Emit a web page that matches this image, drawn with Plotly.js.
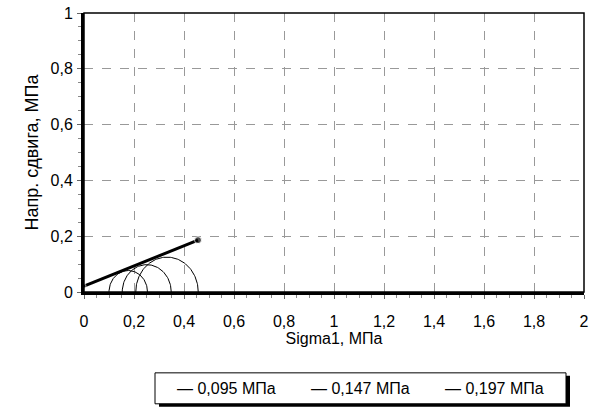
<!DOCTYPE html>
<html>
<head>
<meta charset="utf-8">
<script src="https://cdn.plot.ly/plotly-3.0.1.min.js"></script>
<style>html,body{margin:0;padding:0;background:#fff;}#chart{width:602px;height:411px;}</style>
</head>
<body>
<div id="chart"></div>
<script>
// Mohr circles: minor and major principal stresses (MPa)
const sigma3 = [0.100, 0.153, 0.207];
const sigma1 = [0.254, 0.349, 0.457];
const legendLabels = ["0,095 МПа", "0,147 МПа", "0,197 МПа"];
// strength envelope
const envX = [0, 0.456];
const envY = [0.021, 0.186];
// ticks
const xTickVals = [0, 0.2, 0.4, 0.6, 0.8, 1, 1.2, 1.4, 1.6, 1.8, 2];
const xTickText = ["0", "0,2", "0,4", "0,6", "0,8", "1", "1,2", "1,4", "1,6", "1,8", "2"];
const yTickVals = [0, 0.2, 0.4, 0.6, 0.8, 1];
const yTickText = ["0", "0,2", "0,4", "0,6", "0,8", "1"];

const traces = [];
for (let i = 0; i < sigma3.length; i++) {
  const c = (sigma1[i] + sigma3[i]) / 2, r = (sigma1[i] - sigma3[i]) / 2;
  const xs = [], ys = [];
  for (let k = 0; k <= 90; k++) {
    const t = Math.PI * k / 90;
    xs.push(c + r * Math.cos(t));
    ys.push(r * Math.sin(t));
  }
  traces.push({x: xs, y: ys, type: 'scatter', mode: 'lines',
    line: {color: '#000', width: 1}, name: legendLabels[i], showlegend: false, hoverinfo: 'skip'});
}
traces.push({x: envX, y: envY, type: 'scatter', mode: 'lines+markers',
  line: {color: '#000', width: 3}, marker: {color: '#000', size: [4, 7]},
  showlegend: false, cliponaxis: false});

const font = {family: 'Arial, "Liberation Sans", sans-serif', size: 16, color: '#000'};
const axisCommon = {
  showline: true, linecolor: '#000', linewidth: 3,
  ticks: 'outside', ticklen: 4, tickcolor: '#666', tickwidth: 1,
  showgrid: true, gridcolor: '#999', griddash: 'dash', gridwidth: 1,
  zeroline: false, tickfont: font, fixedrange: true,
  minor: {dtick: 0.05, ticks: 'outside', ticklen: 3, tickcolor: '#888', showgrid: false}
};

// legend entries: box from px 155 to 566, entries evenly spread
const boxL = 155, boxR = 566, boxT = 373, boxB = 404;
const px2x = p => (p - 84) / 500, py2y = p => (292 - p) / 279.5;
const entryW = (boxR - boxL - 8) / legendLabels.length;
const legendAnns = legendLabels.map((s, i) => ({
  xref: 'paper', yref: 'paper', x: px2x(boxL + 4 + entryW * (i + 0.5)), y: py2y((boxT + boxB) / 2),
  xanchor: 'center', yanchor: 'middle', text: '— ' + s, showarrow: false, font: font
}));

const layout = {
  width: 602, height: 411,
  margin: {l: 84, r: 18, t: 13, b: 119},
  paper_bgcolor: '#fff', plot_bgcolor: '#fff',
  font: font,
  showlegend: false,
  xaxis: Object.assign({}, axisCommon, {range: [0, 2], tickmode: 'array', tickvals: xTickVals, ticktext: xTickText,
    ticklabelstandoff: 9,
    title: {text: 'Sigma1, МПа', font: font, standoff: 3}}),
  yaxis: Object.assign({}, axisCommon, {range: [0, 1], tickmode: 'array', tickvals: yTickVals, ticktext: yTickText,
    ticklabelstandoff: 1,
    title: {text: 'Напр. сдвига, МПа', font: Object.assign({}, font, {size: 18}), standoff: 8}}),
  shapes: [
    {type: 'rect', xref: 'paper', yref: 'paper', x0: 0, x1: 1, y0: 0, y1: 1, line: {color: '#000', width: 1.5}, layer: 'above'},
    // legend shadow and box
    {type: 'rect', xref: 'paper', yref: 'paper', x0: px2x(boxL + 4), x1: px2x(boxR + 4), y0: py2y(boxB + 3), y1: py2y(boxT + 3),
      fillcolor: '#000', line: {width: 0}},
    {type: 'rect', xref: 'paper', yref: 'paper', x0: px2x(boxL), x1: px2x(boxR), y0: py2y(boxB), y1: py2y(boxT),
      fillcolor: '#fff', line: {color: '#000', width: 1}}
  ],
  annotations: legendAnns
};
Plotly.newPlot('chart', traces, layout, {staticPlot: true, displayModeBar: false});
</script>
</body>
</html>
